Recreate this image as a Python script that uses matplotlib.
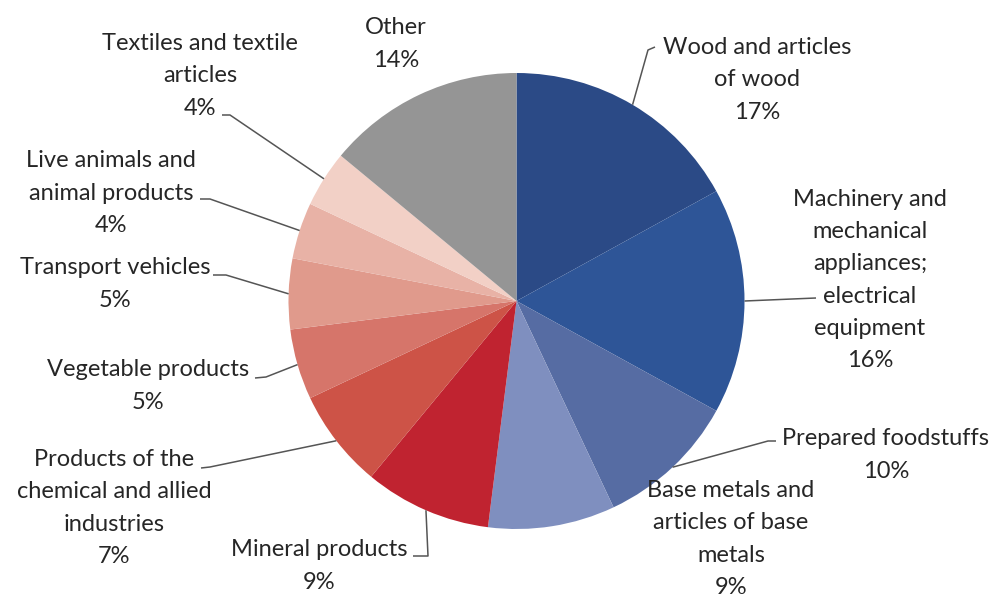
import numpy as np
import matplotlib
matplotlib.use("Agg")
import matplotlib.pyplot as plt

plt.rcParams['font.family'] = ['Lato', 'DejaVu Sans']

# Trade shares by product group (%), clockwise from 12 o'clock
categories = [
    "Wood and articles\nof wood",
    "Machinery and\nmechanical\nappliances;\nelectrical\nequipment",
    "Prepared foodstuffs",
    "Base metals and\narticles of base\nmetals",
    "Mineral products",
    "Products of the\nchemical and allied\nindustries",
    "Vegetable products",
    "Transport vehicles",
    "Live animals and\nanimal products",
    "Textiles and textile\narticles",
    "Other",
]
shares = [17, 16, 10, 9, 9, 7, 5, 5, 4, 4, 14]
colors = ["#2b4a86", "#2e5597", "#566ca3", "#7f8fbf", "#c02330", "#cd5347",
          "#d6756a", "#e09a8c", "#e8b2a6", "#f2d0c6", "#959595"]

W, H = 992, 600
cx, cy, R = 516.5, H - 301, 228

# label block centre (px from top-left) and leader elbow points; None = no leader
label_pos = [(757, 80), (870, 280), (886, 455), (731, 539), (319, 566), (114, 508),
             (148, 386), (115, 284), (111, 193), (200, 76), (396, 44)]
leaders = [
    [(648, 50), (655, 47)],
    [(816, 298)],
    [(768, 441), (776, 441)],
    None,
    [(428, 556), (413, 556)],
    [(210, 467), (201, 468)],
    [(266, 377), (255, 378)],
    [(226, 275), (213, 275)],
    [(210, 199), (200, 199)],
    [(230, 115), (222, 115)],
    None,
]

fig = plt.figure(figsize=(W / 100, H / 100), dpi=100)
ax = fig.add_axes([0, 0, 1, 1])

wedges, _ = ax.pie(shares, colors=colors, startangle=90, counterclock=False,
                   center=(cx, cy), radius=R, wedgeprops=dict(linewidth=0),
                   frame=True)
ax.set_xlim(0, W)
ax.set_ylim(0, H)
ax.set_aspect('equal')
ax.axis('off')

for w, name, val, (lx, ly), elbow in zip(wedges, categories, shares, label_pos, leaders):
    ax.text(lx, H - ly, f"{name}\n{val}%", ha='center', va='center',
            fontsize=17, color='#262626', linespacing=1.66)
    if elbow is None:
        continue
    mid = np.deg2rad((w.theta1 + w.theta2) / 2)
    pts = [(cx + R * np.cos(mid), cy + R * np.sin(mid))]
    pts += [(x, H - y) for x, y in elbow]
    xs, ys = zip(*pts)
    ax.plot(xs, ys, color='#555555', lw=1.1, solid_capstyle='butt')

fig.savefig("out.png", dpi=100, facecolor='white')
